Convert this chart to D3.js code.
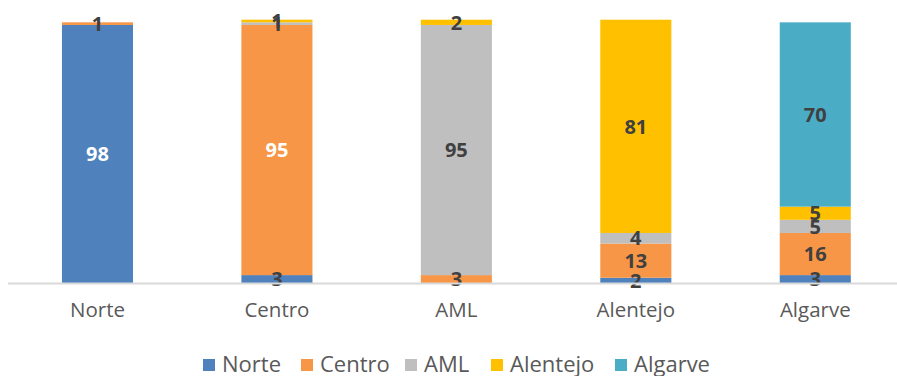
<!DOCTYPE html>
<html>
<head>
<meta charset="utf-8">
<script src="https://cdn.jsdelivr.net/npm/d3@7"></script>
<style>
  html, body { margin: 0; padding: 0; background: #fff; }
  svg { display: block; font-family: "Open Sans", "Noto Sans", sans-serif; }
</style>
</head>
<body>
<svg id="chart" width="897" height="376"></svg>
<script>
// Regions (categories on the x axis)
const categories = ["Norte", "Centro", "AML", "Alentejo", "Algarve"];
// Stacked series, bottom to top
const seriesNames = ["Norte", "Centro", "AML", "Alentejo", "Algarve"];
const norteValues    = [98, 3, 0, 2, 3];
const centroValues   = [1, 95, 3, 13, 16];
const amlValues      = [0, 1, 95, 4, 5];
const alentejoValues = [0, 1, 2, 81, 5];
const algarveValues  = [0, 0, 0, 0, 70];
const seriesColors = ["#4f81bd", "#f79646", "#bfbfbf", "#ffc000", "#4bacc6"];

const seriesValues = [norteValues, centroValues, amlValues, alentejoValues, algarveValues];

const rows = categories.map((c, i) => {
  const r = { category: c };
  seriesNames.forEach((s, j) => { r[s] = seriesValues[j][i]; });
  return r;
});

const svg = d3.select("#chart");
const W = 897;
const baseY = 283;
const topY = 19.7;

const x = d3.scaleBand()
  .domain(categories)
  .range([7.75, 905])
  .paddingInner(0.604)
  .paddingOuter(0.302);

const y = d3.scaleLinear().domain([0, 100]).range([baseY, topY]);

const stack = d3.stack().keys(seriesNames);
const layers = stack(rows);

const g = svg.append("g");

layers.forEach((layer, j) => {
  g.append("g")
    .attr("fill", seriesColors[j])
    .selectAll("rect")
    .data(layer.filter(d => d[1] - d[0] > 0))
    .join("rect")
    .attr("x", d => x(d.data.category))
    .attr("width", x.bandwidth())
    .attr("y", d => y(d[1]))
    .attr("height", d => y(d[0]) - y(d[1]));
});

// Horizontal category axis line
const xAxis = d3.axisBottom(x).tickSize(0).tickPadding(0);
const axisG = svg.append("g")
  .attr("transform", `translate(0,${baseY})`)
  .call(xAxis);
axisG.select(".domain").remove();
axisG.append("line")
  .attr("x1", 8).attr("x2", W)
  .attr("y1", 0.5).attr("y2", 0.5)
  .attr("stroke", "#d9d9d9").attr("stroke-width", 2);
axisG.selectAll(".tick text")
  .attr("y", 34)
  .attr("dy", 0)
  .attr("fill", "#595959")
  .attr("font-size", 20.5)
  .attr("font-family", "'Open Sans', sans-serif");

// Value labels, centred in each segment
const whiteLabel = (series, value) => (series === "Norte" || series === "Centro") && value > 50;
layers.forEach((layer, j) => {
  g.append("g")
    .selectAll("text")
    .data(layer.filter(d => d[1] - d[0] > 0))
    .join("text")
    .attr("x", d => x(d.data.category) + x.bandwidth() / 2)
    .attr("y", d => (y(d[0]) + y(d[1])) / 2)
    .attr("dy", "0.36em")
    .attr("text-anchor", "middle")
    .attr("font-size", 20)
    .attr("font-weight", "bold")
    .attr("fill", d => whiteLabel(layer.key, d[1] - d[0]) ? "#ffffff" : "#404040")
    .text(d => d[1] - d[0]);
});

// Legend
const legendX = [203, 301, 405, 491, 615];
const legend = svg.append("g");
seriesNames.forEach((s, j) => {
  const lg = legend.append("g").attr("transform", `translate(${legendX[j]},0)`);
  lg.append("rect")
    .attr("x", 0).attr("y", 359)
    .attr("width", 12).attr("height", 12)
    .attr("fill", seriesColors[j]);
  lg.append("text")
    .attr("x", 19).attr("y", 372)
    .attr("font-size", 22)
    .attr("fill", "#595959")
    .text(s);
});
</script>
</body>
</html>
